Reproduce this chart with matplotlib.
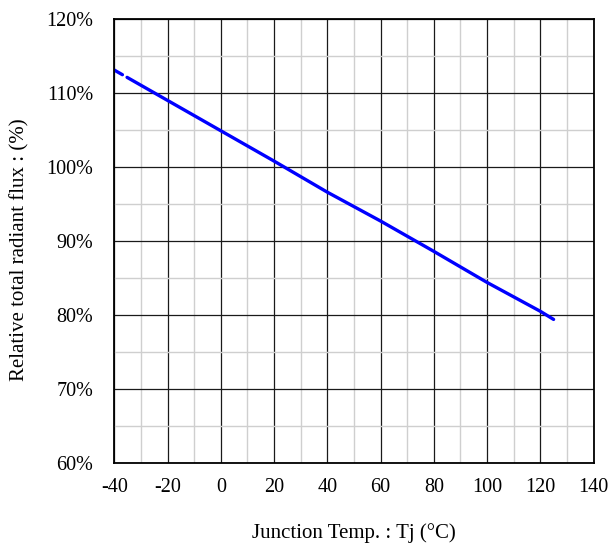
import matplotlib
matplotlib.use("Agg")
import matplotlib.pyplot as plt
from matplotlib.ticker import MultipleLocator, FuncFormatter

# Data
temp_c = [-40, -20, 0, 20, 40, 60, 80, 100, 120, 125]
rel_flux = [113.1, 109.0, 104.9, 100.8, 96.6, 92.7, 88.6, 84.4, 80.5, 79.4]
x_ticks = [-40, -20, 0, 20, 40, 60, 80, 100, 120, 140]
y_ticks = [60, 70, 80, 90, 100, 110, 120]

plt.rcParams['font.family'] = ['Liberation Serif', 'DejaVu Serif']
plt.rcParams['axes.unicode_minus'] = False

fig = plt.figure(figsize=(6.10, 5.44), dpi=100)
ax = fig.add_axes([0.1874, 0.149, 0.973 - 0.1874, 0.965 - 0.149])

ax.set_xlim(-40, 140)
ax.set_ylim(60, 120)
ax.set_xticks(x_ticks)
ax.set_yticks(y_ticks)
ax.xaxis.set_minor_locator(MultipleLocator(10))
ax.yaxis.set_minor_locator(MultipleLocator(5))
ax.yaxis.set_major_formatter(FuncFormatter(lambda v, p: f"{v:.0f}%"))
ax.xaxis.set_major_formatter(FuncFormatter(lambda v, p: f"{v:.0f}"))

ax.grid(which='minor', color='#cfcfcf', linewidth=1.0)
ax.grid(which='major', color='#1a1a1a', linewidth=0.9)
ax.set_axisbelow(True)

ax.tick_params(which='both', length=0)
ax.tick_params(axis='x', labelsize=14.5, pad=11)
ax.tick_params(axis='y', labelsize=14.5, pad=15)

for s in ax.spines.values():
    s.set_linewidth(1.3)
    s.set_color('black')

lw = 2.4
ax.plot(temp_c, rel_flux, color='#0000ff', linewidth=lw,
        linestyle=(0, (2.8, 1.6, 2000, 0)), solid_capstyle='round',
        dash_capstyle='round')

ax.set_xlabel('Junction Temp. : Tj (°C)', fontsize=15)
ax.xaxis.label.set_va('center')
ax.xaxis.set_label_coords(0.5, -0.158)
ax.set_ylabel('Relative total radiant flux : (%)', fontsize=15)
ax.yaxis.label.set_va('center')
ax.yaxis.set_label_coords(-0.197, 0.48)

fig.savefig('out.png', dpi=100)
